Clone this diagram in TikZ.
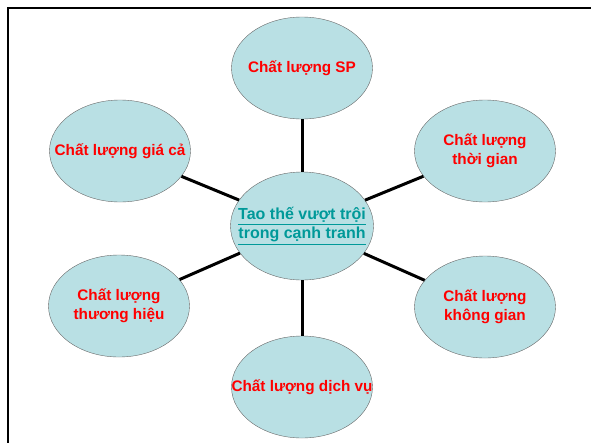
\documentclass[tikz,border=0pt]{standalone}
\usepackage{fontspec}
\setmainfont{Liberation Sans}
\usetikzlibrary{shapes.geometric}
\definecolor{bubblefill}{RGB}{185,224,228}
\definecolor{linkteal}{RGB}{0,153,153}
\begin{document}
\begin{tikzpicture}[x=1pt, y=-1pt,
    bubble/.style={ellipse, draw=black!60, fill=bubblefill, minimum
      width=141pt, minimum height=102pt, inner sep=0},
    caption/.style={align=center, text=red, inner sep=0,
      font=\bfseries\fontsize{15.3}{19}\selectfont},
    spoke/.style={line width=3pt, black}]
  \useasboundingbox (0,0) rectangle (591,442);
  \clip (0,0) rectangle (591,442);
  \draw[line width=2pt] (8,8) rectangle (620,470);
  \node[bubble, minimum width=143pt, minimum height=108pt,
    label={[caption, text=linkteal, font=\bfseries\fontsize{16}{19}\selectfont]center:
      \underline{Tao thế vượt trội}\\\underline{trong cạnh tranh}}]
    (core) at (302,226) {};
  \node[bubble, label={[caption]center:Chất lượng SP}] (sp) at (302,68) {};
  \node[bubble, label={[caption]center:Chất lượng\\thời gian}] (time) at (485,151) {};
  \node[bubble, label={[caption]center:Chất lượng\\không gian}] (space) at (485,307) {};
  \node[bubble, label={[caption]center:Chất lượng dịch vụ}] (service) at (302,387) {};
  \node[bubble, label={[caption]center:Chất lượng\\thương hiệu}] (brand) at (119,306) {};
  \node[bubble, label={[caption]center:Chất lượng giá cả}] (price) at (120,151) {};
  % spokes
  \foreach \n in {sp,time,space,service,brand,price}
    \draw[spoke] (core) -- (\n);
\end{tikzpicture}
\end{document}
